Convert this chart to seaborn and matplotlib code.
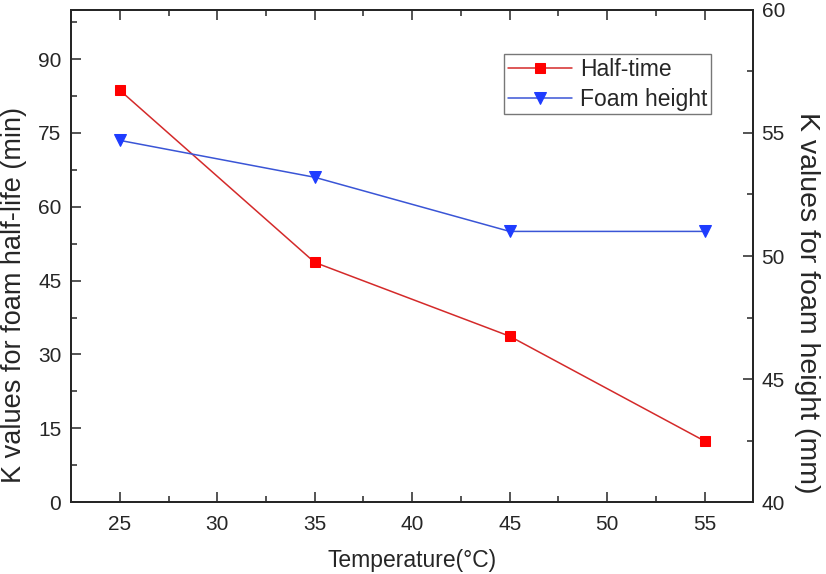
import pandas as pd
import seaborn as sns
import matplotlib.pyplot as plt
from matplotlib.ticker import MultipleLocator

temperature = [25, 35, 45, 55]
half_time = [83.7, 48.7, 33.7, 12.4]
foam_height = [54.7, 53.2, 51.0, 51.0]

df = pd.DataFrame({'temp': temperature, 'half': half_time, 'foam': foam_height})

sns.set_style('ticks')
plt.rcParams['font.family'] = ['Liberation Sans', 'DejaVu Sans']
plt.rcParams['xtick.direction'] = 'in'
plt.rcParams['ytick.direction'] = 'in'

fig = plt.figure(figsize=(8.26, 5.74), dpi=100)
ax = fig.add_axes([0.086, 0.1254, 0.826, 0.8572])
ax2 = ax.twinx()

sns.lineplot(data=df, x='temp', y='half', ax=ax, color='#d42a2a', lw=1.1,
             marker='s', markersize=7.5, markerfacecolor='#ff0000',
             markeredgecolor='#ff0000', label='Half-time', legend=False)
sns.lineplot(data=df, x='temp', y='foam', ax=ax2, color='#3a55d6', lw=1.1,
             marker='v', markersize=9, markerfacecolor='#1e3cff',
             markeredgecolor='#1e3cff', label='Foam height', legend=False)

ax.set_xlim(22.5, 57.5)
ax.set_ylim(0, 100)
ax2.set_ylim(40, 60)
ax.set_xticks([25, 30, 35, 40, 45, 50, 55])
ax.set_yticks([0, 15, 30, 45, 60, 75, 90])
ax2.set_yticks([40, 45, 50, 55, 60])
ax.xaxis.set_minor_locator(MultipleLocator(2.5))
ax.yaxis.set_minor_locator(MultipleLocator(7.5))
ax2.yaxis.set_minor_locator(MultipleLocator(2.5))

ax.tick_params(axis='x', which='both', top=True, labelsize=15, pad=9)
ax.tick_params(axis='x', which='major', length=7, width=1.1)
ax.tick_params(axis='x', which='minor', length=4, width=1.1)
ax.tick_params(axis='y', which='major', length=7, width=1.1, labelsize=15, pad=7)
ax.tick_params(axis='y', which='minor', length=4, width=1.1)
ax2.tick_params(axis='y', which='major', length=7, width=1.1, labelsize=15, pad=6)
ax2.tick_params(axis='y', which='minor', length=4, width=1.1)
for a in (ax, ax2):
    for s in a.spines.values():
        s.set_linewidth(1.4)
        s.set_visible(True)

ax.set_xlabel('Temperature(°C)', fontsize=16.5, va='center')
ax.xaxis.set_label_coords(0.5, -0.118)
ax.set_ylabel('K values for foam half-life (min)', fontsize=19.5, va='center')
ax.yaxis.set_label_coords(-0.084, 0.42)
ax2.set_ylabel('K values for foam height (mm)', fontsize=20.5, rotation=270, va='center')
ax2.yaxis.set_label_coords(1.078, 0.405)

h1, l1 = ax.get_legend_handles_labels()
h2, l2 = ax2.get_legend_handles_labels()
leg = ax2.legend(h1 + h2, l1 + l2, loc='upper right', bbox_to_anchor=(0.9376, 0.91),
                 fontsize=16.5, frameon=True, fancybox=False, edgecolor='#555555',
                 handlelength=2.8, borderpad=0.15, labelspacing=0.3,
                 handletextpad=0.35, borderaxespad=0)
leg.get_frame().set_linewidth(1.0)

fig.savefig('out.png', dpi=100)
